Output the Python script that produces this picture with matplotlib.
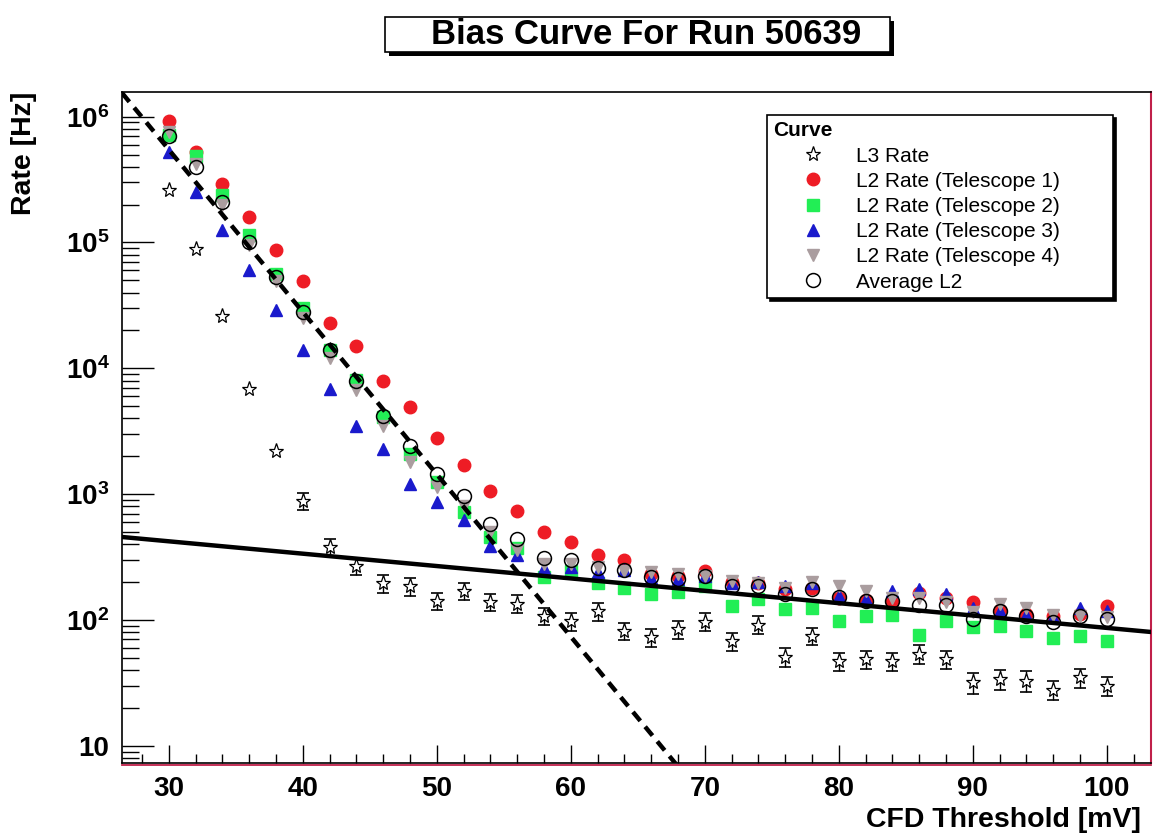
import matplotlib
matplotlib.use('Agg')
import matplotlib.pyplot as plt
import numpy as np
from matplotlib.patches import Rectangle
from matplotlib.ticker import MultipleLocator, NullFormatter

# CFD thresholds [mV]
threshold = [30, 32, 34, 36, 38, 40, 42, 44, 46, 48, 50, 52, 54, 56, 58,
             60, 62, 64, 66, 68, 70, 72, 74, 76, 78, 80,
             82, 84, 86, 88, 90, 92, 94, 96, 98, 100]

l3_rate = [2.6e5, 8.9e4, 2.6e4, 6.9e3, 2.2e3, 890, 380, 270, 195, 185, 142, 170, 140, 135, 108,
           98, 117, 82, 73, 85, 97, 68, 92, 51, 75, 47,
           49, 47, 54, 49, 32, 34, 33, 28, 35, 30]
l3_err = [2600, 1800, 900, 400, 180, 140, 57, 42, 31, 30, 23, 27, 22, 22, 17,
          16, 19, 13, 12, 14, 16, 11, 15, 9, 12, 8,
          8, 8, 9, 8, 6, 6, 6, 5, 6, 5]

tel1_rate = [9.2e5, 5.2e5, 2.9e5, 1.6e5, 8.7e4, 4.9e4, 2.3e4, 1.5e4, 7.9e3, 4.9e3, 2.8e3, 1.7e3, 1.05e3, 740, 500,
             420, 330, 300, 230, 225, 245, 200, 195, 175, 180, 150,
             145, 140, 165, 150, 140, 120, 112, 108, 112, 128]
tel2_rate = [7.2e5, 4.9e5, 2.4e5, 1.15e5, 5.6e4, 3.0e4, 1.4e4, 8.1e3, 4.1e3, 2.1e3, 1.25e3, 720, 460, 370, 220,
             245, 195, 178, 162, 167, 185, 128, 148, 123, 125, 98,
             108, 110, 76, 98, 88, 90, 82, 72, 75, 68]
tel3_rate = [5.2e5, 2.5e5, 1.25e5, 6.0e4, 2.9e4, 1.4e4, 6.8e3, 3.5e3, 2.3e3, 1.2e3, 860, 620, 390, 330, 260,
             265, 240, 250, 215, 210, 225, 195, 200, 185, 195, 155,
             148, 170, 175, 160, 125, 118, 110, 105, 125, 118]
tel4_rate = [7.5e5, 4.2e5, 2.0e5, 9.5e4, 4.9e4, 2.5e4, 1.2e4, 6.7e3, 3.5e3, 1.8e3, 1.15e3, 800, 500, 360, 280,
             280, 265, 245, 240, 230, 225, 205, 195, 180, 200, 185,
             170, 150, 150, 140, 115, 135, 125, 110, 108, 105]
avg_rate = [7.0e5, 4.0e5, 2.1e5, 1.0e5, 5.3e4, 2.8e4, 1.4e4, 7.9e3, 4.2e3, 2.4e3, 1.45e3, 960, 580, 440, 310,
            300, 260, 250, 220, 213, 225, 187, 187, 162, 177, 153,
            142, 142, 131, 131, 102, 117, 107, 97, 107, 102]

# exponential fits: log10(rate) = a + b * threshold
nsb_fit = (9.607, -0.129)     # dashed, low threshold
cr_fit = (2.92, -0.00983)     # solid, high threshold

labels = ['L3 Rate', 'L2 Rate (Telescope 1)', 'L2 Rate (Telescope 2)',
          'L2 Rate (Telescope 3)', 'L2 Rate (Telescope 4)', 'Average L2']
x_ticks = [30, 40, 50, 60, 70, 80, 90, 100]
y_ticks = [10, 1e2, 1e3, 1e4, 1e5, 1e6]
y_ticklabels = ['10', r'$\mathbf{10^{2}}$', r'$\mathbf{10^{3}}$', r'$\mathbf{10^{4}}$',
                r'$\mathbf{10^{5}}$', r'$\mathbf{10^{6}}$']

plt.rcParams['font.family'] = ['Liberation Sans', 'DejaVu Sans']
plt.rcParams['mathtext.fontset'] = 'custom'
plt.rcParams['mathtext.bf'] = 'Liberation Sans:bold'
plt.rcParams['mathtext.rm'] = 'Liberation Sans:bold'

W, H = 1154, 833
fig = plt.figure(figsize=(W / 100, H / 100), dpi=100)
ax = fig.add_axes([122 / W, 1 - 763 / H, 1029 / W, 671 / H])
ax.set_yscale('log')
xmin, xmax = 26.5, 103.3
ax.set_xlim(xmin, xmax)
ax.set_ylim(7.3, 1.57e6)

x = np.array(threshold)
l3 = np.array(l3_rate)
err = np.array(l3_err)
show = err / l3 >= 0.12
ax.errorbar(x[show], l3[show], yerr=err[show], fmt='none', ecolor='black',
            elinewidth=1, capsize=4.5, capthick=1.2, zorder=2)
h0, = ax.plot(x, l3, '*', ms=11, mfc='white', mec='black', mew=0.9, zorder=3)
h1, = ax.plot(x, tel1_rate, 'o', ms=9, color='#ee1c25', mec='#ee1c25', zorder=3)
h2, = ax.plot(x, tel2_rate, 's', ms=8, color='#22ee55', mec='#22ee55', zorder=3)
h3, = ax.plot(x, tel3_rate, '^', ms=9, color='#1a1acc', mec='#1a1acc', zorder=3)
h4, = ax.plot(x, tel4_rate, 'v', ms=9, color='#aa9d9f', mec='#aa9d9f', zorder=3)
h5, = ax.plot(x, avg_rate, 'o', ms=10, mfc='none', mec='black', mew=1.1, zorder=4)

fx = np.linspace(xmin, xmax, 200)
ax.plot(fx, 10 ** (nsb_fit[0] + nsb_fit[1] * fx), color='black', lw=3.2,
        ls=(0, (2.6, 1.7)), zorder=5)
ax.plot(fx, 10 ** (cr_fit[0] + cr_fit[1] * fx), color='black', lw=3.2, zorder=5)

ax.set_xticks(x_ticks, [str(t) for t in x_ticks], fontweight='bold')
ax.xaxis.set_minor_locator(MultipleLocator(2))
ax.set_yticks(y_ticks, y_ticklabels, fontweight='bold')
ax.yaxis.set_minor_formatter(NullFormatter())
ax.tick_params(axis='x', which='major', direction='in', length=13, width=1,
               labelsize=20, pad=9, top=False)
ax.tick_params(axis='x', which='minor', direction='in', length=6.5, width=1, top=False)
ax.tick_params(axis='y', which='major', direction='in', length=23, width=1,
               labelsize=20, pad=9, right=False)
ax.tick_params(axis='y', which='minor', direction='in', length=12, width=1, right=False)

ax.set_ylabel('Rate [Hz]', fontsize=20.5, fontweight='bold', loc='top')
ax.yaxis.set_label_coords(-0.083, 1.0)
ax.set_xlabel('CFD Threshold [mV]', fontsize=20.5, fontweight='bold', loc='right')
ax.xaxis.set_label_coords(0.99, -0.066)

for s in ['left', 'top', 'bottom']:
    ax.spines[s].set_color('black')
    ax.spines[s].set_linewidth(1.2)
ax.spines['right'].set_color('#c0204a')
ax.spines['right'].set_linewidth(1.5)
ax.plot([0, 1], [-0.003, -0.003], transform=ax.transAxes, color='#c0204a',
        lw=1.3, clip_on=False)

leg = ax.legend([h0, h1, h2, h3, h4, h5], labels, loc='upper left',
                bbox_to_anchor=(767 / W, 1 - 298 / H, 346 / W, 183 / H),
                bbox_transform=fig.transFigure, mode='expand', borderaxespad=0,
                title='Curve', title_fontproperties={'weight': 'bold', 'size': 15},
                alignment='left', prop={'size': 15}, handlelength=3.8,
                handletextpad=0.17, borderpad=0.3, labelspacing=0.3,
                fancybox=False, edgecolor='black', framealpha=1,
                shadow={'color': 'black', 'alpha': 1})
leg.get_frame().set_linewidth(1.2)
leg.set_zorder(10)

# title box with shadow
fig.patches.append(Rectangle((389 / W, 1 - 56 / H), 505 / W, 35 / H, transform=fig.transFigure,
                             facecolor='black', edgecolor='none', zorder=1))
fig.patches.append(Rectangle((385 / W, 1 - 52 / H), 505 / W, 35 / H, transform=fig.transFigure,
                             facecolor='white', edgecolor='black', lw=1.2, zorder=2))
fig.text(646 / W, 1 - 35 / H, 'Bias Curve For Run 50639', ha='center', va='center',
         fontsize=25, fontweight='bold', zorder=3)

fig.savefig('out.png', dpi=100)
